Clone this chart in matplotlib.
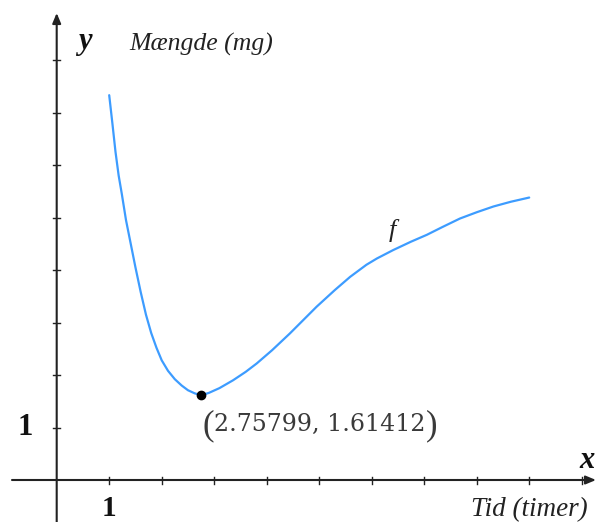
import numpy as np
import matplotlib.pyplot as plt

# curve samples (hours, mg)
t_vals = [1.00, 1.06, 1.12, 1.18, 1.24, 1.32, 1.40, 1.50, 1.60, 1.70, 1.80, 1.90,
          2.00, 2.12, 2.25, 2.38, 2.50, 2.63, 2.758,
          2.90, 3.10, 3.36, 3.60, 3.81, 4.10, 4.44, 4.95, 5.30, 5.59, 5.90, 6.10,
          6.41, 6.75, 7.05, 7.35, 7.68, 8.00, 8.32, 8.65, 9.00]
m_vals = [7.33, 6.80, 6.25, 5.80, 5.45, 4.95, 4.55, 4.05, 3.58, 3.15, 2.80, 2.52,
          2.28, 2.08, 1.92, 1.80, 1.71, 1.65, 1.614,
          1.66, 1.75, 1.90, 2.06, 2.22, 2.47, 2.79, 3.30, 3.62, 3.87, 4.10, 4.22,
          4.38, 4.54, 4.67, 4.82, 4.98, 5.10, 5.21, 5.30, 5.38]
min_pt = (2.75799, 1.61412)
x_ticks = list(range(1, 11))
y_ticks = list(range(1, 9))

serif = ['Liberation Serif', 'DejaVu Serif']

fig = plt.figure(figsize=(5.97, 5.22), dpi=100)
ax = fig.add_axes([0, 0, 1, 1])
# 1 unit = 52.5 px, origin at (56.7, 480) px
u = 52.5
ax.set_xlim(-56.7 / u, (597 - 56.7) / u)
ax.set_ylim(-(522 - 480) / u, 480 / u)
ax.axis('off')

# axes with arrows
arrow = dict(arrowstyle='-|>,head_length=0.6,head_width=0.25',
             color='#222222', lw=1.5, shrinkA=0, shrinkB=0)
ax.annotate('', xy=((596 - 56.7) / u, 0), xytext=(-(56.7 - 12) / u, 0), arrowprops=arrow)
ax.annotate('', xy=(0, (480 - 13) / u), xytext=(0, -(522 - 480) / u), arrowprops=arrow)

tl = 3.5 / u
for xt in x_ticks:
    ax.plot([xt, xt], [-tl, tl], color='#222222', lw=1)
for yt in y_ticks:
    ax.plot([-tl, tl], [yt, yt], color='#222222', lw=1)

# curve and minimum
ax.plot(t_vals, m_vals, color='#3d9cff', lw=1.6, solid_capstyle='round',
        solid_joinstyle='round')
ax.plot(*min_pt, 'o', color='black', markersize=6)

# labels
ax.text(1, -0.69, '1', fontsize=21, family=serif, fontweight='bold',
        ha='center', va='baseline', color='#111111')
ax.text(-0.45, 1, '1', fontsize=22, family=serif, fontweight='bold',
        ha='right', va='center', color='#111111')
ax.text(0.54, 8.35, 'y', fontsize=22, family=serif, style='italic',
        fontweight='bold', ha='center', va='center', color='#111111')
ax.text(1.38, 8.3, 'Mængde (mg)', fontsize=18.5, family=serif,
        style='italic', ha='left', va='center', color='#222222')
ax.text(10.1, 0.38, 'x', fontsize=22, family=serif, style='italic',
        fontweight='bold', ha='center', va='center', color='#111111')
ax.text(7.9, -0.68, 'Tid (timer)', fontsize=19.5, family=serif,
        style='italic', ha='left', va='baseline', color='#222222')
ax.text(6.4, 4.75, 'f', fontsize=19, family=serif, style='italic',
        ha='center', va='center', color='#222222')

coord = ax.text(3.0, 1.05, '2.75799, 1.61412', fontsize=17,
                family='DejaVu Serif', ha='left', va='center', color='#3a3a3a')
ax.annotate('(', xy=(0, 0.45), xycoords=coord, fontsize=25, family=serif,
            ha='right', va='center', color='#3a3a3a')
ax.annotate(')', xy=(1, 0.45), xycoords=coord, fontsize=25, family=serif,
            ha='left', va='center', color='#3a3a3a')

fig.savefig('out.png', dpi=100)
